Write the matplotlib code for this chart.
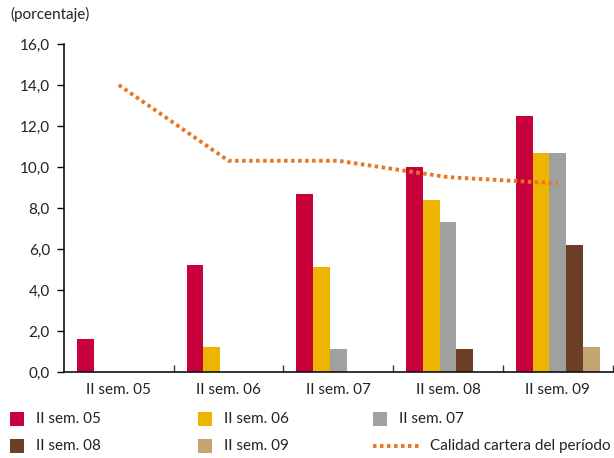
import numpy as np
import matplotlib.pyplot as plt
from matplotlib.patches import Rectangle
from matplotlib.lines import Line2D
from matplotlib.ticker import FuncFormatter, FixedLocator

plt.rcParams['font.family'] = ['Lato', 'DejaVu Sans']

# Data
periods = ['II sem. 05', 'II sem. 06', 'II sem. 07', 'II sem. 08', 'II sem. 09']
cohort_labels = ['II sem. 05', 'II sem. 06', 'II sem. 07', 'II sem. 08', 'II sem. 09']
# one list per cohort, value per period (None = no bar)
cohort_05 = [1.6, 5.2, 8.7, 10.0, 12.5]
cohort_06 = [None, 1.2, 5.1, 8.4, 10.7]
cohort_07 = [None, None, 1.1, 7.3, 10.7]
cohort_08 = [None, None, None, 1.1, 6.2]
cohort_09 = [None, None, None, None, 1.2]
calidad_cartera = [14.0, 10.3, 10.3, 9.5, 9.2]
line_label = 'Calidad cartera del período'

colors = ['#C8003C', '#EDB500', '#A0A0A0', '#6B3E26', '#C4A571']
line_color = '#E87722'
text_color = '#222222'

W, H = 614, 458
fig = plt.figure(figsize=(W / 100, H / 100), dpi=100)
ax = fig.add_axes([0.104, 0.188, 0.894, 0.716])

centers = np.arange(len(periods)) + 0.5
w = 0.153
cohorts = [cohort_05, cohort_06, cohort_07, cohort_08, cohort_09]
for j, (vals, c, lab) in enumerate(zip(cohorts, colors, cohort_labels)):
    xs = [centers[i] + (j - 2) * w for i, v in enumerate(vals) if v is not None]
    ys = [v for v in vals if v is not None]
    ax.bar(xs, ys, width=w, color=c, label=lab, linewidth=0)

ax.plot(centers, calidad_cartera, color=line_color, linewidth=2.8,
        linestyle=(0, (0.9, 0.9)), dash_capstyle='butt', label=line_label)

ax.set_xlim(0, 5)
ax.set_ylim(0, 16)
ax.set_yticks(np.arange(0, 17, 2))
ax.yaxis.set_major_formatter(FuncFormatter(lambda v, p: f'{v:.1f}'.replace('.', ',')))
ax.xaxis.set_major_locator(FixedLocator([1, 2, 3, 4, 5]))
ax.xaxis.set_minor_locator(FixedLocator(centers))
ax.set_xticklabels([], minor=False)
ax.set_xticklabels(periods, minor=True)
ax.tick_params(axis='x', which='major', direction='in', length=5, width=1, color='#333333')
ax.tick_params(axis='x', which='minor', length=0, pad=8, labelsize=11, labelcolor=text_color)
ax.tick_params(axis='y', direction='out', length=5, width=1, labelsize=11,
               labelcolor=text_color, pad=5)

for s in ['top', 'right']:
    ax.spines[s].set_visible(False)
for s in ['left', 'bottom']:
    ax.spines[s].set_linewidth(1.2)
    ax.spines[s].set_color('#111111')

fig.text(10 / W, 1 - 14 / H, '(porcentaje)', fontsize=11, color=text_color, va='center')

# Legend laid out as in the reference (3 columns, 2 rows)
col_x = [10, 198, 373]
row_y = [419, 446]
legend_items = [(colors[0], cohort_labels[0]), (colors[1], cohort_labels[1]),
                (colors[2], cohort_labels[2]), (colors[3], cohort_labels[3]),
                (colors[4], cohort_labels[4]), (None, line_label)]
for k, (c, lab) in enumerate(legend_items):
    x0 = col_x[k % 3]
    y0 = row_y[k // 3]
    if c is not None:
        fig.add_artist(Rectangle((x0 / W, 1 - (y0 + 7) / H), 14 / W, 14 / H,
                                 transform=fig.transFigure, color=c, lw=0))
        tx = x0 + 26
    else:
        fig.add_artist(Line2D([x0 / W, (x0 + 46) / W], [1 - y0 / H, 1 - y0 / H],
                              transform=fig.transFigure, color=line_color, lw=2.8,
                              linestyle=(0, (0.9, 0.9)), dash_capstyle='butt'))
        tx = x0 + 57
    fig.text(tx / W, 1 - y0 / H, lab, fontsize=11, color=text_color, va='center')

fig.savefig('out.png', dpi=100)
